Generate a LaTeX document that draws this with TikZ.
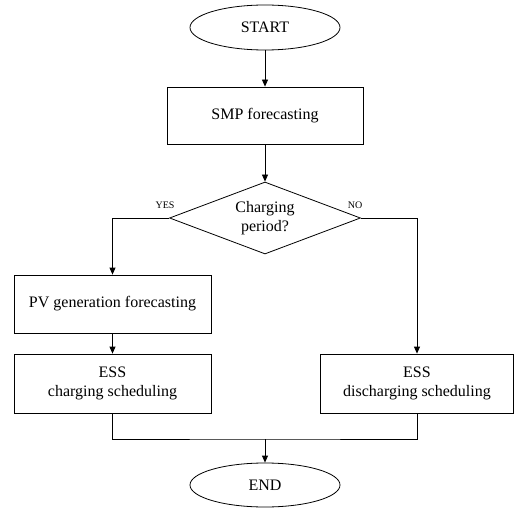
\documentclass[tikz,border=0pt]{standalone}
\usepackage{fontspec}
\setmainfont{Liberation Serif}
\usetikzlibrary{shapes.geometric,arrows.meta}
\begin{document}
\begin{tikzpicture}[x=1pt,y=-1pt,
  every node/.style={font=\fontsize{16}{19}\selectfont},
  term/.style={ellipse,draw,line width=0.8pt,minimum width=150pt,minimum height=45pt,inner sep=0pt},
  proc/.style={rectangle,draw,line width=0.8pt,inner sep=0pt,align=center},
  dec/.style={diamond,draw,line width=0.8pt,aspect=2.65,minimum width=191pt,minimum height=72pt,inner sep=0pt,align=center},
  lbl/.style={font=\fontsize{10}{12}\selectfont,inner sep=0pt},
  conn/.style={line width=0.8pt,-{Triangle[length=7pt,width=6pt]}},
  wire/.style={line width=0.8pt}]
\useasboundingbox (0,0) rectangle (514,508);
\node[term] (start) at (265,27.5) {START};
\node[proc,minimum width=196pt,minimum height=57pt] (smp) at (265,115.5) {SMP forecasting};
\node[dec] (dec) at (265,218) {Charging\\period?};
\node[proc,minimum width=197pt,minimum height=58pt] (pv) at (112.5,304) {PV generation forecasting};
\node[proc,minimum width=197pt,minimum height=59pt] (chg) at (112.5,383.5) {ESS\\charging scheduling};
\node[proc,minimum width=193pt,minimum height=59pt] (dis) at (417,383.5) {ESS\\discharging scheduling};
\node[term,minimum height=44pt] (end) at (265,485) {END};
\node[lbl] (yes) at (165,205) {YES};
\node[lbl] (no) at (355,205) {NO};
\coordinate (join) at (265,439);
\draw[conn] (start) -- (smp);
\draw[conn] (smp) -- (dec);
\draw[conn] (dec.west) -| (pv.north);
\draw[conn] (dec.east) -| (dis.north);
\draw[conn] (pv) -- (chg);
\draw[wire] (chg.south) |- (join) -| (dis.south);
\draw[conn] (join) -- (end);
\end{tikzpicture}
\end{document}
